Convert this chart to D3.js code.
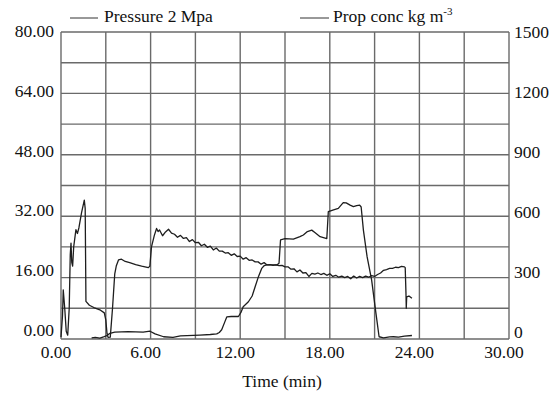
<!DOCTYPE html>
<html>
<head>
<meta charset="utf-8">
<script src="https://cdn.jsdelivr.net/npm/d3@7"></script>
<style>
  body { margin: 0; background: #fff; }
</style>
</head>
<body>
<svg width="553" height="395" font-family="'Liberation Serif', 'DejaVu Serif', 'Times New Roman', serif"></svg>
<script>
//time in min, pressure in MPa (left axis)
let pressureTime = [0, 0.1, 0.15, 0.25, 0.35, 0.45, 0.55, 0.62, 0.67, 0.72, 0.78, 0.85, 0.95, 1.0, 1.1, 1.2, 1.38, 1.56, 1.62, 1.67,
  1.9, 2.2, 2.6, 2.9, 3.0, 3.08, 3.15, 3.3, 3.45, 3.6, 3.7, 3.85, 4.05, 4.3, 4.6, 5.0, 5.4, 5.85, 5.95, 6.06, 6.25, 6.4, 6.5,
  6.6, 6.8, 7.0, 7.2, 7.4, 7.6, 7.8, 8.0, 8.2, 8.4, 8.6, 8.8, 9.0, 9.2, 9.4, 9.6, 9.8, 10.0, 10.2, 10.4, 10.6, 10.8,
  11.0, 11.2, 11.4, 11.6, 11.8, 12.0, 12.2, 12.4, 12.6, 12.8, 13.0, 13.2, 13.4, 13.6, 13.8, 14.0, 14.2, 14.4, 14.6, 14.8,
  15.0, 15.2, 15.4, 15.6, 15.8, 16.0, 16.2, 16.4, 16.6, 16.8, 17.0, 17.2, 17.4, 17.6, 17.8, 18.0, 18.2, 18.4, 18.6, 18.8,
  19.0, 19.2, 19.4, 19.6, 19.8, 20.0, 20.2, 20.4, 20.6, 20.8, 21.0, 21.2, 21.4, 21.6, 21.8, 22.0, 22.2, 22.4, 22.6, 22.8,
  23.0, 23.05, 23.1, 23.12, 23.15, 23.3, 23.5];
let pressureValue = [0.5, 6, 12.8, 8, 2, 1.0, 8, 22, 25, 20, 19, 24, 27, 28.5, 27.5, 29, 33, 36.2, 34, 9.8,
  8.8, 8.2, 7.6, 6.8, 5, 1.5, 0.4, 0.5, 8, 17, 19, 20.6, 20.8, 20.2, 19.9, 19.4, 19, 18.6, 19, 24, 27, 28.8, 28,
  28.4, 26.9, 27.9, 28.6, 27.6, 27.3, 26.5, 27.0, 26.2, 26.4, 25.4, 25.9, 25.1, 25.2, 24.3, 24.7, 23.9, 24.2, 23.2, 23.7, 22.9, 22.9,
  22.4, 22.5, 21.8, 22.2, 21.5, 21.6, 20.8, 21.2, 20.5, 20.6, 20.1, 20.1, 19.5, 19.9, 19.3, 19.4, 19.2, 19.3, 19.1, 19.2,
  18.8, 18.8, 18.2, 18.3, 17.5, 18.0, 17.2, 17.3, 16.3, 17.1, 16.9, 17.2, 16.8, 17.1, 16.6, 17.0, 16.3, 16.6, 16.1, 16.4,
  16.0, 16.3, 15.7, 16.4, 15.9, 16.3, 16.0, 16.4, 16.1, 16.5, 16.3, 16.8, 17.2, 17.9, 18.1, 18.4, 18.4, 18.7, 18.6, 18.9,
  18.8, 18.6, 12, 8.0, 11, 11.2, 10.6];

//time in min, proppant concentration in kg m-3 (right axis)
let propTime = [2.05, 2.3, 2.6, 2.9, 3.1, 3.28, 3.6, 4.5, 5.5, 5.96, 6.3, 6.87, 7.5, 8.0, 9.3, 10.0, 10.43, 10.6, 10.76, 10.95,
  11.1, 11.4, 11.88, 12.05, 12.2, 12.55, 12.8, 13.0, 13.2, 13.44, 13.6, 13.78, 14.45, 14.6, 14.7, 15.0, 15.56, 16.0, 16.23, 16.5,
  16.79, 17.0, 17.35, 17.8, 17.9, 18.2, 18.57, 18.9, 19.1, 19.36, 19.58, 19.8, 20.0, 20.1, 20.25, 20.5, 20.8, 21.1, 21.3, 21.6,
  22.0, 22.26, 22.6, 23.0, 23.5];
let propValue = [5, 8, 4, 12, 18, 28, 34, 36, 34, 38, 25, 11, 8, 15, 19, 22, 25, 32, 45, 80,
  108, 110, 110, 130, 158, 182, 210, 255, 300, 345, 358, 362, 362, 370, 484, 490, 488, 500, 508, 525,
  532, 520, 500, 491, 622, 630, 638, 666, 665, 654, 647, 652, 654, 645, 532, 401, 289, 120, 11, 6,
  10, 11, 9, 14, 17];

//tick labels
let xTicks = [0, 6, 12, 18, 24, 30];
let leftTicks = [0, 16, 32, 48, 64, 80];
let rightTicks = [0, 300, 600, 900, 1200, 1500];

let svg = d3.select("svg");
let marginLeft = 61, marginTop = 32, width = 448, height = 307;
let fontSize = "17.5px";

let g = svg.append("g").attr("transform", "translate(" + marginLeft + "," + marginTop + ")");

let xScale = d3.scaleLinear().domain([0, 30]).range([0, width]);
let yLeft = d3.scaleLinear().domain([0, 80]).range([height, 0]);
let yRight = d3.scaleLinear().domain([0, 1500]).range([height, 0]);
//labels sit a bit off the grid lines in the original
let yLabel = d3.scaleLinear().domain([0, 80]).range([height - 3, 5]);
let yLabelRight = d3.scaleLinear().domain([0, 1500]).range([height - 1, 6]);

//grid, every 3 min and every 8 MPa
g.selectAll(".vgrid")
  .data(d3.range(0, 31, 3))
  .enter()
  .append("line")
  .attr("class", "vgrid")
  .attr("x1", d => xScale(d))
  .attr("x2", d => xScale(d))
  .attr("y1", 0)
  .attr("y2", height)
  .attr("stroke", "#6a6a6a")
  .attr("stroke-width", 1.4);

g.selectAll(".hgrid")
  .data(d3.range(0, 81, 8))
  .enter()
  .append("line")
  .attr("class", "hgrid")
  .attr("x1", 0)
  .attr("x2", width)
  .attr("y1", d => yLeft(d))
  .attr("y2", d => yLeft(d))
  .attr("stroke", "#6a6a6a")
  .attr("stroke-width", 1.4);

//tick labels
g.selectAll(".xlabel")
  .data(xTicks)
  .enter()
  .append("text")
  .attr("class", "xlabel")
  .attr("x", d => xScale(d) - 5)
  .attr("y", height + 19)
  .attr("text-anchor", "middle")
  .attr("font-size", fontSize)
  .attr("fill", "#111")
  .text(d => d.toFixed(2));

g.selectAll(".ylabel")
  .data(leftTicks)
  .enter()
  .append("text")
  .attr("class", "ylabel")
  .attr("x", -7)
  .attr("y", d => yLabel(d))
  .attr("text-anchor", "end")
  .attr("font-size", fontSize)
  .attr("fill", "#111")
  .text(d => d.toFixed(2));

g.selectAll(".rlabel")
  .data(rightTicks)
  .enter()
  .append("text")
  .attr("class", "rlabel")
  .attr("x", width + 5)
  .attr("y", d => yLabelRight(d))
  .attr("text-anchor", "start")
  .attr("font-size", fontSize)
  .attr("fill", "#111")
  .text(d => d);

g.append("text")
  .attr("x", width / 2 - 3)
  .attr("y", height + 48)
  .attr("text-anchor", "middle")
  .attr("font-size", fontSize)
  .attr("fill", "#111")
  .text("Time (min)");

//curves
let pressureLine = d3.line()
  .x((d, i) => xScale(pressureTime[i]))
  .y(d => yLeft(d));
let propLine = d3.line()
  .x((d, i) => xScale(propTime[i]))
  .y(d => yRight(d));

g.append("path")
  .datum(pressureValue)
  .attr("d", pressureLine)
  .attr("fill", "none")
  .attr("stroke", "#1e1e1e")
  .attr("stroke-width", 1.3)
  .attr("stroke-linejoin", "round");

g.append("path")
  .datum(propValue)
  .attr("d", propLine)
  .attr("fill", "none")
  .attr("stroke", "#1e1e1e")
  .attr("stroke-width", 1.3)
  .attr("stroke-linejoin", "round");

//legend
let legend = svg.append("g");
legend.append("line")
  .attr("x1", 70).attr("x2", 98).attr("y1", 18).attr("y2", 18)
  .attr("stroke", "#333").attr("stroke-width", 1);
legend.append("text")
  .attr("x", 104).attr("y", 22)
  .attr("font-size", fontSize)
  .attr("fill", "#111")
  .text("Pressure 2 Mpa");

legend.append("line")
  .attr("x1", 300).attr("x2", 329).attr("y1", 18).attr("y2", 18)
  .attr("stroke", "#333").attr("stroke-width", 1);
let propText = legend.append("text")
  .attr("x", 333).attr("y", 22)
  .attr("font-size", fontSize)
  .attr("fill", "#111");
propText.append("tspan").text("Prop conc kg m");
propText.append("tspan")
  .attr("dy", -7)
  .attr("font-size", "11px")
  .text("-3");
</script>
</body>
</html>
